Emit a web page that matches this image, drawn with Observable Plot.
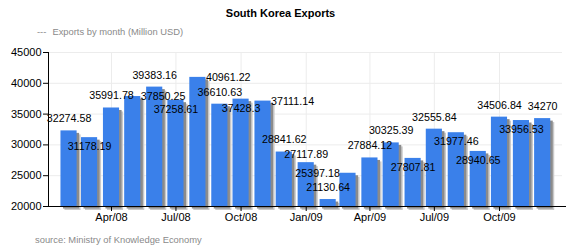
<!DOCTYPE html>
<html>
<head>
<meta charset="utf-8">
<script src="https://cdn.jsdelivr.net/npm/d3@7"></script>
<script src="https://cdn.jsdelivr.net/npm/@observablehq/plot@0.6"></script>
<style>
  html, body { margin: 0; padding: 0; background: #ffffff; }
  #wrap { position: relative; width: 569px; height: 245px; overflow: hidden;
          font-family: "Liberation Sans", Arial, sans-serif; }
  #chart { position: absolute; left: 0; top: 0; }
  .ovl { position: absolute; white-space: nowrap; }
  #title { left: 0; width: 561px; top: 7px; text-align: center; font-weight: bold; font-size: 11px; color: #000; }
  #legend { left: 37px; top: 26px; font-size: 9.4px; color: #8a8a8a; }
  #legend span { margin-right: 6px; }
  #source { left: 35px; top: 234px; font-size: 9.4px; color: #8a8a8a; }
</style>
</head>
<body>
<div id="wrap">
  <div id="chart"></div>
  <div id="title" class="ovl">South Korea Exports</div>
  <div id="legend" class="ovl"><span>---</span>Exports by month (Million USD)</div>
  <div id="source" class="ovl">source: Ministry of Knowledge Economy</div>
</div>
<script>
// ---- data ----
const months = ["2008-01","2008-02","2008-03","2008-04","2008-05","2008-06","2008-07","2008-08",
  "2008-09","2008-10","2008-11","2008-12","2009-01","2009-02","2009-03","2009-04","2009-05",
  "2009-06","2009-07","2009-08","2009-09","2009-10","2009-11"];
const exportsMillionUSD = [32274.58, 31178.19, 35991.78, 37850.25, 39383.16, 37258.61, 40961.22,
  36610.63, 37428.3, 37111.14, 28841.62, 27117.89, 21130.64, 25397.18, 27884.12, 30325.39,
  27807.81, 32555.84, 31977.46, 28940.65, 34506.84, 33956.53, 34270];
const xTickLabels = ["Apr/08","Jul/08","Oct/08","Jan/09","Apr/09","Jul/09","Oct/09"];
const yTicks = [20000, 25000, 30000, 35000, 40000, 45000];

// ---- derived ----
const parseMonth = d3.utcParse("%Y-%m");
const parseTick = d3.utcParse("%b/%y");
const DAY = 864e5;
const data = months.map((m, i) => {
  const month = parseMonth(m);
  const center = d3.utcMonth.offset(month, 1); // bar sits at the end of its month
  return {
    month, center, value: exportsMillionUSD[i],
    x1: new Date(+center - 11.4 * DAY),
    x2: new Date(+center + 11.4 * DAY),
    text: String(exportsMillionUSD[i])
  };
});
const tickDates = xTickLabels.map(t => parseTick(t));
const tickLabelMap = new Map(tickDates.map((d, i) => [+d, xTickLabels[i]]));

const W = 569, H = 245;
const FONT = "Liberation Sans";
const LABEL_SIZE = 10.7;
const xDomain = [new Date(Date.UTC(2008, 0, 3)), new Date(Date.UTC(2009, 11, 29))];
const yDomain = [20000, 45000];
const baseOpts = {
  width: W, height: H,
  marginLeft: 48, marginRight: 7, marginTop: 52, marginBottom: 39,
  x: {type: "utc", domain: xDomain},
  y: {domain: yDomain}
};

// preliminary plot to obtain the library's scales in pixels
const pre = Plot.plot({...baseOpts, axis: null, marks: [Plot.rectY(data, {x1: "x1", x2: "x2", y: "value"})]});
const sx = pre.scale("x"), sy = pre.scale("y");

// label placement: try above, nudged above, below, left, right; avoid overlapping earlier labels
const ctx = document.createElement("canvas").getContext("2d");
ctx.font = `${LABEL_SIZE}px "${FONT}"`;
const BOX_H = 12;
const placed = [];
const labels = data.map(d => {
  const cx = sx.apply(d.center);
  const top = sy.apply(d.value);
  const half = (sx.apply(d.x2) - sx.apply(d.x1)) / 2;
  const w = ctx.measureText(d.text).width;
  const cands = [[0, -12], [0, -8], [0, 9], [-(half + w / 2), 0], [half + w / 2, 0]];
  let pick = cands[0];
  for (const [ox, oy] of cands) {
    const px = cx + ox, py = top + oy;
    const hit = placed.some(p => Math.abs(p.x - px) < (p.w + w) / 2 && Math.abs(p.y - py) < BOX_H);
    if (!hit) { pick = [ox, oy]; break; }
  }
  const px = cx + pick[0], py = top + pick[1];
  placed.push({x: px, y: py, w});
  return {lx: sx.invert(px), ly: sy.invert(py), text: d.text};
});

const plot = Plot.plot({
  ...baseOpts,
  style: {fontFamily: FONT, fontSize: "11px", background: "transparent", color: "#000"},
  marks: [
    Plot.ruleY(yTicks, {stroke: "#ececec", strokeWidth: 1}),
    Plot.ruleX(tickDates, {stroke: "#ececec", strokeWidth: 1}),
    Plot.rectY(data, {x1: "x1", x2: "x2", y1: yDomain[0], y2: "value", fill: "#c9c9c9", dx: 4, dy: 4}),
    Plot.rectY(data, {x1: "x1", x2: "x2", y1: yDomain[0], y2: "value", fill: "#8b8b8b", dx: 2.5, dy: 2.5}),
    Plot.rectY(data, {x1: "x1", x2: "x2", y1: yDomain[0], y2: "value", fill: "#3a80ea"}),
    Plot.ruleX([xDomain[0]], {stroke: "#000", strokeWidth: 1}),
    Plot.ruleY([yDomain[0]], {stroke: "#000", strokeWidth: 1, insetRight: -4}),
    Plot.axisY(yTicks, {tickSize: 5, tickPadding: 2, fontSize: 11, label: null, stroke: "#000", fill: "#000",
      tickFormat: d => String(d)}),
    Plot.axisX(tickDates, {tickSize: 5, tickPadding: 2, fontSize: 11, label: null,
      tickFormat: d => tickLabelMap.get(+d), stroke: "#000", fill: "#000"}),
    Plot.text(labels, {x: "lx", y: "ly", text: "text", fontSize: LABEL_SIZE, fill: "#000", fontFamily: FONT})
  ]
});
document.getElementById("chart").appendChild(plot);
</script>
</body>
</html>
